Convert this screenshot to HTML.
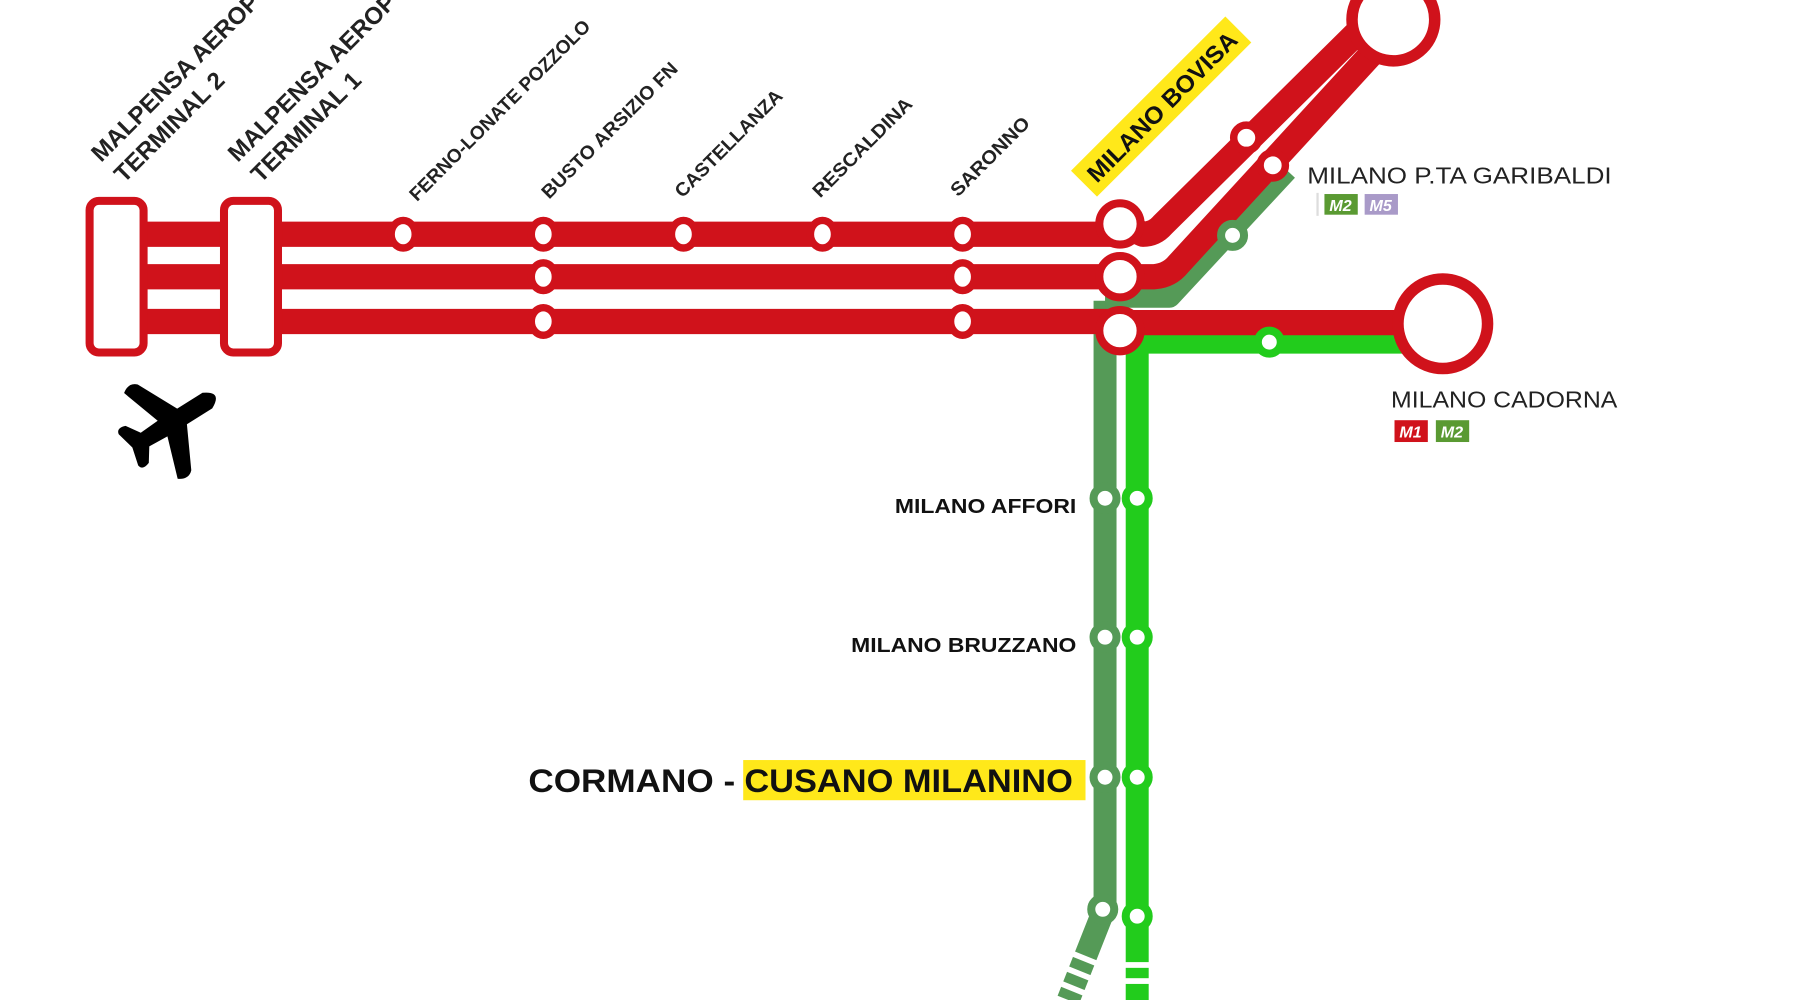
<!DOCTYPE html>
<html><head><meta charset="utf-8"><style>
html,body{margin:0;padding:0;background:#fff;width:1800px;height:1000px;overflow:hidden}
svg{display:block}
text{font-family:"Liberation Sans",sans-serif}
</style></head><body>
<svg width="1800" height="1000" viewBox="0 0 1567 871" preserveAspectRatio="none" xmlns="http://www.w3.org/2000/svg">
<g fill="none" stroke-linecap="butt" stroke-linejoin="round">
 <path d="M962 262 L962 790 L930 871" stroke="#559a57" stroke-width="20"/>
 <path d="M962 258 L1018 258 L1120 148" stroke="#559a57" stroke-width="20"/>
 <path d="M990 871 L990 298 L1225 298" stroke="#22cc1c" stroke-width="20"/>
 <path d="M120 204 L975 204" stroke="#d0121b" stroke-width="22"/>
 <path d="M120 241 L975 241" stroke="#d0121b" stroke-width="22"/>
 <path d="M120 280 L975 280" stroke="#d0121b" stroke-width="22"/>
 <path d="M975 281 L1225 281" stroke="#d0121b" stroke-width="22"/>
 <path d="M975 195 L995 204 Q1005 204 1012 196 L1200 10" stroke="#d0121b" stroke-width="22"/>
 <path d="M975 241 L1005 241 Q1018 240 1026 230 L1205 35" stroke="#d0121b" stroke-width="22"/>
</g>
<g fill="#fff">
 <rect x="975" y="838" width="30" height="5"/><rect x="975" y="852" width="30" height="5"/>
 <g transform="rotate(22 935 850)"><rect x="915" y="830" width="40" height="5"/><rect x="915" y="844" width="40" height="5"/><rect x="915" y="858" width="40" height="5"/></g>
</g>
<rect x="78" y="175" width="47" height="132" rx="8" fill="#fff" stroke="#d0121b" stroke-width="7"/>
<rect x="195" y="175" width="47" height="132" rx="8" fill="#fff" stroke="#d0121b" stroke-width="7"/>
<g fill="#fff" stroke="#d0121b" stroke-width="6.5">
 <ellipse cx="351" cy="204" rx="10.5" ry="12"/><ellipse cx="473" cy="204" rx="10.5" ry="12"/><ellipse cx="595" cy="204" rx="10.5" ry="12"/><ellipse cx="716" cy="204" rx="10.5" ry="12"/><ellipse cx="838" cy="204" rx="10.5" ry="12"/>
 <ellipse cx="473" cy="241" rx="10.5" ry="12"/><ellipse cx="838" cy="241" rx="10.5" ry="12"/>
 <ellipse cx="473" cy="280" rx="10.5" ry="12"/><ellipse cx="838" cy="280" rx="10.5" ry="12"/>
 <circle cx="1085" cy="120" r="11"/><circle cx="1108" cy="144" r="11"/>
</g>
<g fill="#fff" stroke="#d0121b" stroke-width="7">
 <circle cx="975" cy="195" r="18"/><circle cx="975" cy="241" r="18"/><circle cx="975" cy="288" r="18"/>
 <circle cx="1213" cy="17" r="36" stroke-width="10"/>
 <circle cx="1256" cy="282" r="39" stroke-width="10"/>
</g>
<g fill="#fff" stroke="#559a57" stroke-width="7">
 <circle cx="1073" cy="205" r="10"/>
 <circle cx="962" cy="434" r="10"/><circle cx="962" cy="555" r="10"/><circle cx="962" cy="677" r="10"/><circle cx="960" cy="792" r="10"/>
</g>
<g fill="#fff" stroke="#22cc1c" stroke-width="7">
 <circle cx="1105" cy="298" r="10"/>
 <circle cx="990" cy="434" r="10"/><circle cx="990" cy="555" r="10"/><circle cx="990" cy="677" r="10"/><circle cx="990" cy="798" r="10"/>
</g>
<g transform="translate(150 368) rotate(58)" fill="#000">
 <path d="M-8 -36 Q0 -52 8 -36 L8 -10 L44 8 Q50 14 44 22 L8 10 L7 28 L19 36 Q22 44 16 45 L0 41 L-16 45 Q-22 44 -19 36 L-7 28 L-8 10 L-44 22 Q-50 14 -44 8 L-8 -10 Z"/>
</g>
<g fill="#222" font-size="16.5" font-weight="600">
 <text transform="translate(88 142) rotate(-45)" font-size="21">MALPENSA AEROPORTO</text>
 <text transform="translate(108 160) rotate(-45)" font-size="21">TERMINAL 2</text>
 <text transform="translate(207 142) rotate(-45)" font-size="21">MALPENSA AEROPORTO</text>
 <text transform="translate(227 160) rotate(-45)" font-size="21">TERMINAL 1</text>
 <text transform="translate(363 176) rotate(-45)" textLength="215" lengthAdjust="spacingAndGlyphs">FERNO-LONATE POZZOLO</text>
 <text transform="translate(478 174) rotate(-45)" textLength="160" lengthAdjust="spacingAndGlyphs">BUSTO ARSIZIO FN</text>
 <text transform="translate(594 173) rotate(-45)" textLength="125" lengthAdjust="spacingAndGlyphs">CASTELLANZA</text>
 <text transform="translate(714 173) rotate(-45)" textLength="115" lengthAdjust="spacingAndGlyphs">RESCALDINA</text>
 <text transform="translate(834 172) rotate(-45)" textLength="90" lengthAdjust="spacingAndGlyphs">SARONNO</text>
</g>
<g transform="translate(955 160) rotate(-45)">
 <rect x="-8" y="-24" width="190" height="32" fill="#ffe81a"/>
 <text x="0" y="0" font-size="21" font-weight="bold" fill="#111" textLength="175" lengthAdjust="spacingAndGlyphs">MILANO BOVISA</text>
</g>
<text x="1138" y="160" font-size="20" fill="#222" textLength="265" lengthAdjust="spacingAndGlyphs">MILANO P.TA GARIBALDI</text>
<line x1="1147" y1="168" x2="1147" y2="188" stroke="#ddd" stroke-width="2"/>
<rect x="1153" y="169" width="29" height="18" fill="#5a9a32"/><text x="1167" y="184" font-size="14" font-weight="bold" fill="#fff" text-anchor="middle" font-style="italic">M2</text>
<rect x="1188" y="169" width="29" height="18" fill="#a99ac8"/><text x="1202" y="184" font-size="14" font-weight="bold" fill="#fff" text-anchor="middle" font-style="italic">M5</text>
<text x="1211" y="355" font-size="20" fill="#222" textLength="197" lengthAdjust="spacingAndGlyphs">MILANO CADORNA</text>
<rect x="1214" y="366" width="29" height="19" fill="#d0121b"/><text x="1228" y="381" font-size="14" font-weight="bold" fill="#fff" text-anchor="middle" font-style="italic">M1</text>
<rect x="1250" y="366" width="29" height="19" fill="#5a9a32"/><text x="1264" y="381" font-size="14" font-weight="bold" fill="#fff" text-anchor="middle" font-style="italic">M2</text>
<text x="937" y="447" font-size="18" font-weight="bold" fill="#111" text-anchor="end" textLength="158" lengthAdjust="spacingAndGlyphs">MILANO AFFORI</text>
<text x="937" y="568" font-size="18" font-weight="bold" fill="#111" text-anchor="end" textLength="196" lengthAdjust="spacingAndGlyphs">MILANO BRUZZANO</text>
<rect x="647" y="662" width="298" height="35" fill="#ffe81a"/>
<text x="460" y="690" font-size="28" font-weight="bold" fill="#111" textLength="180" lengthAdjust="spacingAndGlyphs">CORMANO -</text>
<text x="648" y="690" font-size="28" font-weight="bold" fill="#111" textLength="286" lengthAdjust="spacingAndGlyphs">CUSANO MILANINO</text>
</svg>
</body></html>
